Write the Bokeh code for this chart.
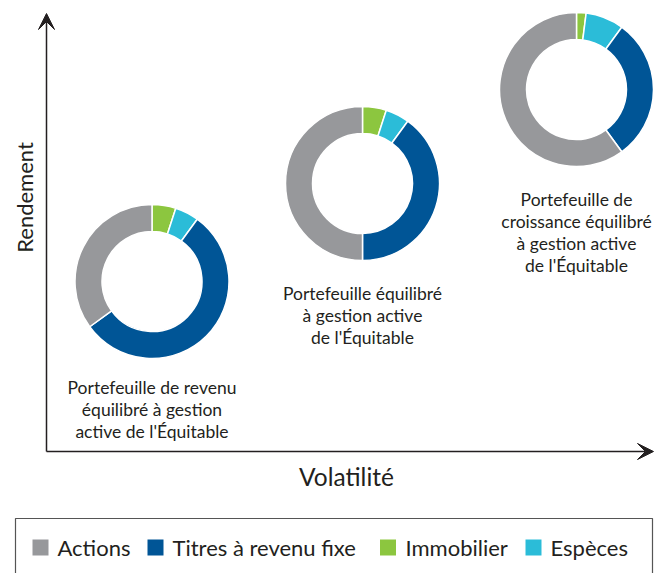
from bokeh.plotting import figure
from bokeh.models import Range1d, Arrow, VeeHead, ColumnDataSource
from bokeh.core.properties import value
from bokeh.embed import file_html
from bokeh.resources import INLINE
import numpy as np

# ---- data ----
categories = ["Actions", "Titres à revenu fixe", "Immobilier", "Espèces"]
colors = ["#97989b", "#005596", "#8cc63f", "#2bbcd8"]
portfolio_names = [
    "Portefeuille de revenu\néquilibré à gestion\nactive de l'Équitable",
    "Portefeuille équilibré\nà gestion active\nde l'Équitable",
    "Portefeuille de\ncroissance équilibré\nà gestion active\nde l'Équitable",
]
actions = [35, 50, 60]
revenu_fixe = [55, 40, 30]
immobilier = [5, 5, 2]
especes = [5, 5, 8]
x_label = "Volatilité"
y_label = "Rendement"

# ---- layout (reference pixel coordinates) ----
cx = [151.5, 362, 576]
cy = [281, 183, 89]
label_dy = [106, 110, 110]
FONT = "Lato"
TXT = "#231f20"

def Y(v):
    return [-t for t in v] if isinstance(v, (list, tuple)) else -v

W, H = 655, 573
p = figure(width=W, height=H, x_range=Range1d(0, W), y_range=Range1d(-H, 0),
           output_backend="svg", toolbar_location=None, min_border=0)
p.axis.visible = False
p.grid.visible = False
p.outline_line_color = None
p.background_fill_color = "white"

# donuts: clockwise from top: Immobilier, Espèces, Titres, Actions
series = {"Actions": actions, "Titres à revenu fixe": revenu_fixe,
          "Immobilier": immobilier, "Espèces": especes}
order = ["Immobilier", "Espèces", "Titres à revenu fixe", "Actions"]
cmap = dict(zip(categories, colors))
xs, ys, sa, ea, fc = [], [], [], [], []
for i in range(len(portfolio_names)):
    tot = sum(series[c][i] for c in order)
    cum = 0.0
    for c in order:
        v = series[c][i] / tot
        s = np.pi / 2 - 2 * np.pi * cum
        e = np.pi / 2 - 2 * np.pi * (cum + v)
        cum += v
        xs.append(cx[i]); ys.append(Y(cy[i])); sa.append(s); ea.append(e); fc.append(cmap[c])
src = ColumnDataSource(dict(x=xs, y=ys, s=sa, e=ea, c=fc))
p.annular_wedge(x="x", y="y", inner_radius=50, outer_radius=77,
                inner_radius_units="screen", outer_radius_units="screen",
                start_angle="s", end_angle="e", direction="clock",
                fill_color="c", line_color="white", line_width=1.5, source=src)

# portfolio labels
lx, ly, lt = [], [], []
for i, name in enumerate(portfolio_names):
    for j, line in enumerate(name.split("\n")):
        lx.append(cx[i]); ly.append(Y(cy[i] + label_dy[i] + 22 * j)); lt.append(line)
p.text(x=lx, y=ly, text=lt, text_font=value(FONT), text_font_size="17.5px",
       text_color=TXT, text_align="center", text_baseline="middle")

# axes arrows
p.add_layout(Arrow(end=VeeHead(size=16, fill_color=TXT, line_color=TXT),
                   x_start=46, y_start=Y(451), x_end=46, y_end=Y(13),
                   line_color=TXT, line_width=1.5))
p.add_layout(Arrow(end=VeeHead(size=16, fill_color=TXT, line_color=TXT),
                   x_start=46, y_start=Y(451), x_end=653, y_end=Y(451),
                   line_color=TXT, line_width=1.5))
p.text(x=[346], y=[Y(476)], text=[x_label], text_font=value(FONT), text_font_size="24.5px",
       text_color=TXT, text_align="center", text_baseline="middle")
p.text(x=[24], y=[Y(197)], text=[y_label], angle=np.pi / 2, text_font=value(FONT),
       text_font_size="22px", text_color=TXT, text_align="center", text_baseline="middle")

# legend
p.quad(left=[15], right=[652], top=[Y(518)], bottom=[Y(580)], fill_color=None,
       line_color="#555555", line_width=1.2)
sq_x = [40, 155, 387.5, 533]
tx_x = [57, 172, 405, 550]
p.rect(x=sq_x, y=[Y(547)] * 4, width=16, height=16, width_units="screen",
       height_units="screen", fill_color=colors, line_color=None)
p.text(x=tx_x, y=[Y(547)] * 4, text=categories, text_font=value(FONT),
       text_font_size="22px", text_color=TXT, text_align="left", text_baseline="middle")

open("out.html", "w").write(file_html(p, INLINE))
